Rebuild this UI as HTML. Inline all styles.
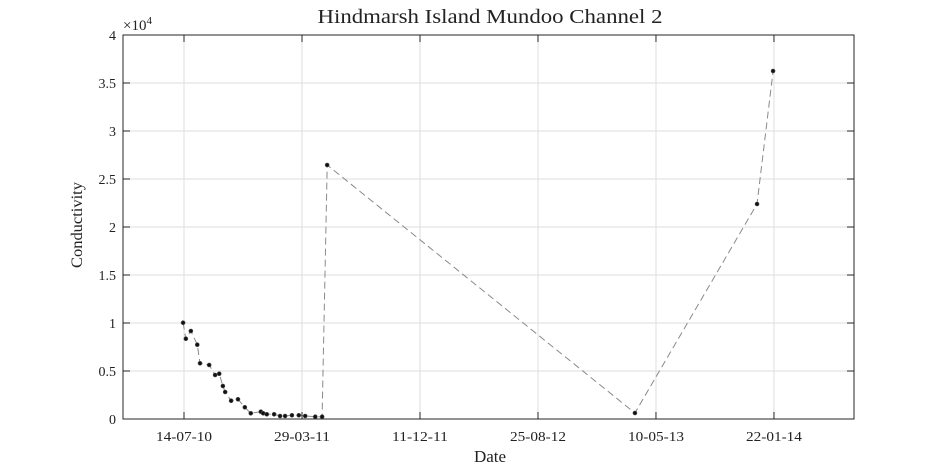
<!DOCTYPE html>
<html><head><meta charset="utf-8"><style>
html,body{margin:0;padding:0;background:#fff;}
svg{display:block;font-family:"Liberation Serif",serif;}
</style></head><body>
<svg id="chart" width="945" height="472" viewBox="0 0 945 472" xmlns="http://www.w3.org/2000/svg">
<rect x="0" y="0" width="945" height="472" fill="#fff"/>
<g id="grid"></g>
<g id="series"></g>
<g id="axes"></g>
<text x="490" y="23" font-size="20" text-anchor="middle" textLength="345" lengthAdjust="spacingAndGlyphs" fill="#222">Hindmarsh Island Mundoo Channel 2</text>
<text x="490" y="462" font-size="17" text-anchor="middle" fill="#222">Date</text>
<text transform="translate(82,225) rotate(-90)" font-size="16" text-anchor="middle" textLength="86" lengthAdjust="spacingAndGlyphs" fill="#222">Conductivity</text>
<text x="123" y="30" font-size="15" fill="#222">×10<tspan dy="-6" font-size="11">4</tspan></text>
</svg>
<script>
// days since 14-07-10
const days = [-2,4,15,29,35,55,68,77,85,90,103,118,133,146,168,173,181,197,210,221,236,251,265,287,302,313,986,1253,1288];
const conductivity = [10030,8365,9167,7740,5802,5625,4583,4719,3438,2813,1906,2052,1219,594,760,594,490,490,313,313,385,385,313,240,240,26458,625,22396,36250];
const xTickDays = [0,258,516,774,1032,1290];
const xTickLabels = ["14-07-10","29-03-11","11-12-11","25-08-12","10-05-13","22-01-14"];
const yTicks = [0,5000,10000,15000,20000,25000,30000,35000,40000];
const yTickLabels = ["0","0.5","1","1.5","2","2.5","3","3.5","4"];

const L=123,R=854,T=35,B=419;
const xMin=-133.4,xMax=1465;
const yMin=0,yMax=40000;
const xs=d=>L+(d-xMin)/(xMax-xMin)*(R-L);
const ys=v=>B-(v-yMin)/(yMax-yMin)*(B-T);
const NS="http://www.w3.org/2000/svg";
function mk(tag,attrs,parent){const e=document.createElementNS(NS,tag);for(const k in attrs)e.setAttribute(k,attrs[k]);parent.appendChild(e);return e;}
const grid=document.getElementById('grid'),axes=document.getElementById('axes'),series=document.getElementById('series');

xTickDays.forEach((d,i)=>{
  const x=xs(d);
  const g=mk('line',{x1:x,x2:x,y1:T,y2:B,stroke:'#dedede','stroke-width':1},grid);
  
  
  const t1=mk('line',{x1:x,x2:x,y1:B,y2:B-7,stroke:'#262626','stroke-width':1},axes);
  
  
  const t2=mk('line',{x1:x,x2:x,y1:T,y2:T+7,stroke:'#262626','stroke-width':1},axes);
  
  
  const lb=mk('text',{x:x,y:B+22,'font-size':14,'text-anchor':'middle',textLength:56,lengthAdjust:'spacingAndGlyphs',fill:'#222'},axes);
  lb.textContent=xTickLabels[i];
  
  
});
yTicks.forEach((v,i)=>{
  const y=ys(v);
  const g=mk('line',{x1:L,x2:R,y1:y,y2:y,stroke:'#dedede','stroke-width':1},grid);
  
  
  const t1=mk('line',{x1:L,x2:L+7,y1:y,y2:y,stroke:'#262626','stroke-width':1},axes);
  
  
  const t2=mk('line',{x1:R,x2:R-7,y1:y,y2:y,stroke:'#262626','stroke-width':1},axes);
  
  
  const lb=mk('text',{x:L-7,y:y+5,'font-size':14,'text-anchor':'end',fill:'#222'},axes);
  lb.textContent=yTickLabels[i];
  
  
});
const box=mk('rect',{x:L,y:T,width:R-L,height:B-T,fill:'none',stroke:'#262626','stroke-width':1},axes);



const pts=days.map((d,i)=>xs(d).toFixed(1)+','+ys(conductivity[i]).toFixed(1)).join(' ');
const line=mk('polyline',{points:pts,fill:'none',stroke:'#8a8a8a','stroke-width':1,'stroke-dasharray':'7,4'},series);


days.forEach((d,i)=>{
  const c=mk('circle',{cx:xs(d),cy:ys(conductivity[i]),r:2,fill:'#111',stroke:'#555','stroke-width':0.6},series);
  
  
});
</script>
</body></html>
